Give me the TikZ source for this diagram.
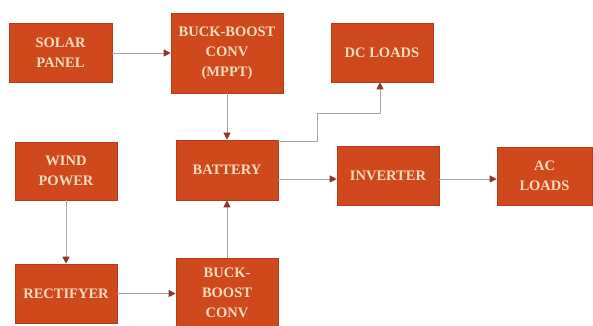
\documentclass[tikz,border=0pt]{standalone}
\usepackage{fontspec}
\setmainfont{Liberation Serif}
\usetikzlibrary{arrows.meta}
\definecolor{boxfill}{HTML}{D0491C}
\definecolor{boxtext}{HTML}{F4DCC0}
\definecolor{linec}{HTML}{ADA39C}
\definecolor{headc}{HTML}{8A3A26}
\begin{document}
\begin{tikzpicture}[x=1pt,y=-1pt,
  blk/.style={draw=boxfill!85!black, line width=0.6pt, fill=boxfill, text=boxtext, inner sep=0pt, align=center,
    font=\bfseries\fontsize{14.5}{20}\selectfont},
  arr/.style={draw=linec, line width=1pt, -{Triangle[length=7pt,width=7pt,color=headc]}}]
\useasboundingbox (0,0) rectangle (593,325);
\fill[white] (0,0) rectangle (593,325);
\clip (0,0) rectangle (593,325);
\node[blk, minimum width=103pt, minimum height=59pt] (solar) at (60.5,53) {SOLAR\\PANEL};
\node[blk, minimum width=112pt, minimum height=80pt] (buck1) at (227,53) {BUCK-BOOST\\CONV\\(MPPT)};
\node[blk, minimum width=102pt, minimum height=59pt] (dc) at (382,52.5) {DC LOADS};
\node[blk, minimum width=102pt, minimum height=58pt] (wind) at (66,171) {WIND\\POWER};
\node[blk, minimum width=102pt, minimum height=60pt] (battery) at (227,170) {BATTERY};
\node[blk, minimum width=102pt, minimum height=59pt] (inverter) at (388,176) {INVERTER};
\node[blk, minimum width=95pt, minimum height=58pt] (ac) at (544.5,176) {AC\\LOADS};
\node[blk, minimum width=102pt, minimum height=59pt] (rect) at (66,293.5) {RECTIFYER};
\node[blk, minimum width=102pt, minimum height=70pt] (buck2) at (227,293) {BUCK-\\BOOST\\CONV};
\coordinate (bendA) at (317,113);
\draw[arr] (solar.east) -- (solar.east -| buck1.west);
\draw[arr] (buck1.south) -- (battery.north);
\draw[arr] (wind.south) -- (rect.north);
\draw[arr] (rect.east) -- (rect.east -| buck2.west);
\draw[arr] (buck2.north) -- (battery.south);
\draw[arr] ([yshift=-9pt]battery.east) -- ([yshift=-3pt]inverter.west);
\draw[arr] ([yshift=-3pt]inverter.east) -- ([yshift=-3pt]ac.west);
\draw[arr] ([yshift=29pt]battery.east) -| (bendA) -| ([xshift=-2pt]dc.south);
\end{tikzpicture}
\end{document}
